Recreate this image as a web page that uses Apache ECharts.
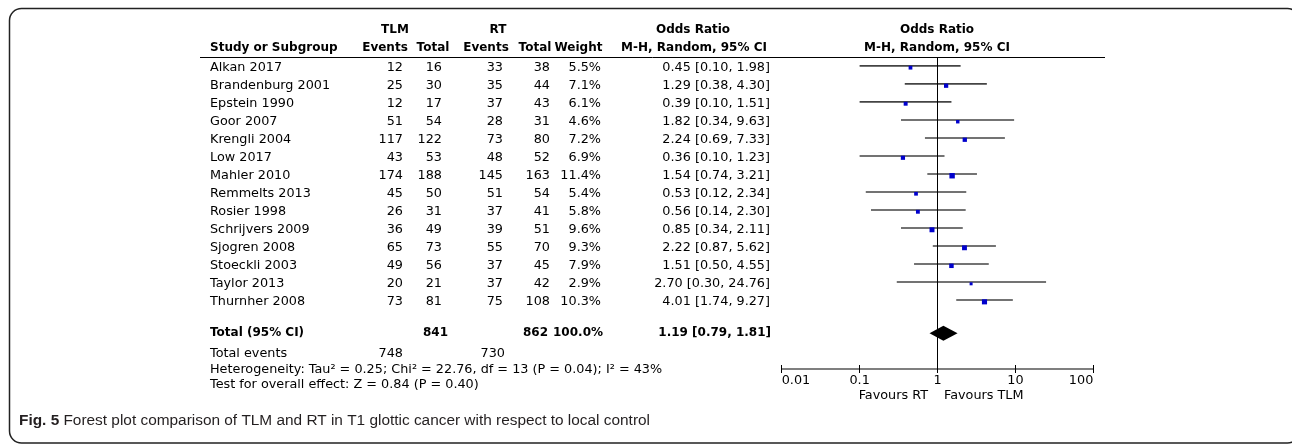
<!DOCTYPE html>
<html>
<head>
<meta charset="utf-8">
<script src="https://cdn.jsdelivr.net/npm/echarts@6/dist/echarts.min.js"></script>
<style>
html,body{margin:0;padding:0;background:#fff;}
#chart{width:1292px;height:444px;}
</style>
</head>
<body>
<div id="chart"></div>
<script>
const studies = ['Alkan 2017','Brandenburg 2001','Epstein 1990','Goor 2007','Krengli 2004','Low 2017','Mahler 2010','Remmelts 2013','Rosier 1998','Schrijvers 2009','Sjogren 2008','Stoeckli 2003','Taylor 2013','Thurnher 2008'];
const tlmEvents = [12,25,12,51,117,43,174,45,26,36,65,49,20,73];
const tlmTotal  = [16,30,17,54,122,53,188,50,31,49,73,56,21,81];
const rtEvents  = [33,35,37,28,73,48,145,51,37,39,55,37,37,75];
const rtTotal   = [38,44,43,31,80,52,163,54,41,51,70,45,42,108];
const weights   = [5.5,7.1,6.1,4.6,7.2,6.9,11.4,5.4,5.8,9.6,9.3,7.9,2.9,10.3];
const oddsRatio = [0.45,1.29,0.39,1.82,2.24,0.36,1.54,0.53,0.56,0.85,2.22,1.51,2.70,4.01];
const ciLow     = [0.10,0.38,0.10,0.34,0.69,0.10,0.74,0.12,0.14,0.34,0.87,0.50,0.30,1.74];
const ciHigh    = [1.98,4.30,1.51,9.63,7.33,1.23,3.21,2.34,2.30,2.11,5.62,4.55,24.76,9.27];
const totalTLM = 841, totalRT = 862, totalWeight = 100.0;
const pooled = {or: 1.19, lo: 0.79, hi: 1.81};
const totalEventsTLM = 748, totalEventsRT = 730;
const heterogeneity = 'Heterogeneity: Tau² = 0.25; Chi² = 22.76, df = 13 (P = 0.04); I² = 43%';
const overallTest = 'Test for overall effect: Z = 0.84 (P = 0.40)';
const xTicks = [0.01, 0.1, 1, 10, 100];
const caption = 'Forest plot comparison of TLM and RT in T1 glottic cancer with respect to local control';

const FONT = 'DejaVu Sans';
const FS = 12.8;
const TOTAL_ROW = 14.75;
const chart = echarts.init(document.getElementById('chart'), null, {renderer: 'canvas'});

const studyData = studies.map((s, i) => [oddsRatio[i], ciLow[i], ciHigh[i], weights[i], i]);

chart.setOption({
  animation: false,
  grid: {left: 781.7, right: 198.7, top: 57, height: 312, containLabel: false},
  xAxis: [{
    type: 'log', logBase: 10, min: xTicks[0], max: xTicks[xTicks.length - 1],
    position: 'bottom',
    axisLine: {show: true, onZero: false, lineStyle: {color: '#555', width: 1.6}},
    axisTick: {show: true, length: 4, lineStyle: {color: '#000', width: 1}},
    axisLabel: {color: '#000', fontFamily: FONT, fontSize: FS, margin: 5,
      alignMinLabel: 'left', alignMaxLabel: 'right',
      formatter: v => String(+(+v).toPrecision(3))},
    splitLine: {show: false}
  }, {
    type: 'log', logBase: 10, min: xTicks[0], max: xTicks[xTicks.length - 1],
    position: 'bottom', offset: 0,
    axisLine: {show: false, onZero: false},
    axisTick: {show: true, inside: true, length: 4, lineStyle: {color: '#000', width: 1}},
    axisLabel: {show: false}, splitLine: {show: false}
  }],
  yAxis: {type: 'value', inverse: true, min: -0.594, max: 16.73, show: false},
  series: [{
    type: 'custom',
    xAxisIndex: 0,
    data: studyData,
    encode: {x: 0, y: 4},
    renderItem: function (params, api) {
      const r = api.value(4);
      const c = api.coord([api.value(0), r]);
      const l = api.coord([api.value(1), r]);
      const h = api.coord([api.value(2), r]);
      const s = Math.max(3, 1.6 * Math.sqrt(api.value(3)));
      return {type: 'group', children: [
        {type: 'line', shape: {x1: l[0], y1: c[1] - 1.8, x2: h[0], y2: c[1] - 1.8},
          style: {stroke: '#444', lineWidth: 1.6}},
        {type: 'rect', shape: {x: c[0] - s / 2, y: c[1] - s / 2, width: s, height: s},
          style: {fill: '#0000cc'}}
      ]};
    },
    markLine: {
      silent: true, symbol: ['none', 'none'], label: {show: false},
      lineStyle: {color: '#000', width: 1, type: 'solid'},
      data: [{xAxis: 1}]
    },
    z: 3
  }, {
    type: 'custom',
    xAxisIndex: 0,
    data: [[pooled.or, pooled.lo, pooled.hi, TOTAL_ROW]],
    encode: {x: 0, y: 3},
    renderItem: function (params, api) {
      const r = api.value(3);
      const c = api.coord([api.value(0), r]);
      const l = api.coord([api.value(1), r]);
      const h = api.coord([api.value(2), r]);
      return {type: 'polygon', shape: {points: [[l[0], c[1]], [c[0], c[1] - 7.5], [h[0], c[1]], [c[0], c[1] + 7.5]]},
        style: {fill: '#000'}};
    },
    z: 4
  }]
});

function rowY(r) { return chart.convertToPixel({yAxisIndex: 0}, r); }
const g = [];
function txt(x, y, s, align, bold, size, font) {
  g.push({type: 'text', x: x, y: y, silent: true,
    style: {text: s, fill: '#000', align: align || 'left', verticalAlign: 'middle',
      font: (bold ? 'bold ' : '') + (size || FS) + 'px "' + (font || FONT) + '"'}});
}
// frame
g.push({type: 'rect', shape: {x: 9.5, y: 8.5, width: 1290, height: 434.5, r: 12},
  style: {fill: 'none', stroke: '#222', lineWidth: 1.5}, silent: true});
// header
const HB = 12;
txt(395, 30, 'TLM', 'center', true, HB);
txt(498, 30, 'RT', 'center', true, HB);
txt(693, 30, 'Odds Ratio', 'center', true, HB);
txt(937, 30, 'Odds Ratio', 'center', true, HB);
txt(210, 48, 'Study or Subgroup', 'left', true, HB);
txt(385, 48, 'Events', 'center', true, HB);
txt(433, 48, 'Total', 'center', true, HB);
txt(486, 48, 'Events', 'center', true, HB);
txt(535, 48, 'Total', 'center', true, HB);
txt(578.5, 48, 'Weight', 'center', true, HB);
txt(694, 48, 'M-H, Random, 95% CI', 'center', true, HB);
txt(937, 48, 'M-H, Random, 95% CI', 'center', true, HB);
g.push({type: 'line', shape: {x1: 200, y1: 57.5, x2: 1105, y2: 57.5}, style: {stroke: '#000', lineWidth: 1}, silent: true});
// rows
studies.forEach((s, i) => {
  const y = rowY(i);
  txt(210, y, s, 'left');
  txt(403, y, String(tlmEvents[i]), 'right');
  txt(442, y, String(tlmTotal[i]), 'right');
  txt(503, y, String(rtEvents[i]), 'right');
  txt(550, y, String(rtTotal[i]), 'right');
  txt(601, y, weights[i].toFixed(1) + '%', 'right');
  txt(770, y, oddsRatio[i].toFixed(2) + ' [' + ciLow[i].toFixed(2) + ', ' + ciHigh[i].toFixed(2) + ']', 'right');
});
const ty = rowY(TOTAL_ROW);
txt(210, ty, 'Total (95% CI)', 'left', true, HB);
txt(448, ty, String(totalTLM), 'right', true, HB);
txt(548, ty, String(totalRT), 'right', true, HB);
txt(603, ty, totalWeight.toFixed(1) + '%', 'right', true, HB);
txt(771, ty, pooled.or.toFixed(2) + ' [' + pooled.lo.toFixed(2) + ', ' + pooled.hi.toFixed(2) + ']', 'right', true, HB);
txt(210, 354, 'Total events', 'left');
txt(403, 354, String(totalEventsTLM), 'right');
txt(505, 354, String(totalEventsRT), 'right');
txt(210, 369.5, heterogeneity, 'left');
txt(210, 385, overallTest, 'left');
txt(928, 396, 'Favours RT', 'right');
txt(944, 396, 'Favours TLM', 'left');
// caption
g.push({type: 'text', x: 19, y: 421, silent: true,
  style: {text: '{b|Fig. 5} ' + caption, verticalAlign: 'middle', fill: '#231f20',
    font: '15.4px "Liberation Sans Narrow", "Liberation Sans"',
    rich: {b: {font: 'bold 15.4px "Liberation Sans Narrow", "Liberation Sans"', fill: '#231f20'}}}});
chart.setOption({graphic: {elements: g}});
</script>
</body>
</html>
